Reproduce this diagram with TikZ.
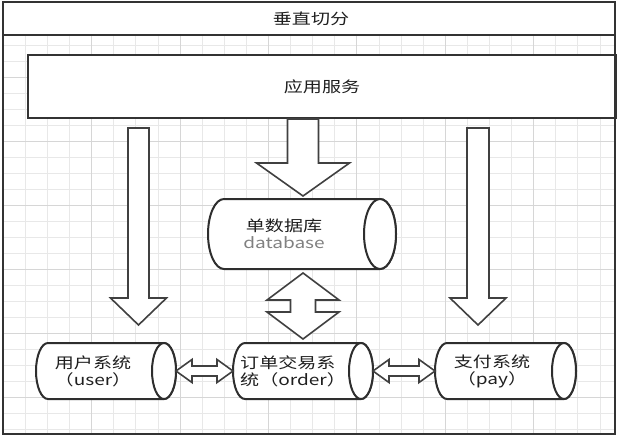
\documentclass[tikz,border=0pt]{standalone}
\usepackage{fontspec}
\newfontfamily\cjk[FakeStretch=1.27]{Noto Sans CJK SC}
\newcommand\blkdown[6]{% cx, top, shaft half, head half, head base, tip
  \draw[blk] (#1-#3,#2) -- (#1+#3,#2) -- (#1+#3,#5) -- (#1+#4,#5) -- (#1,#6) -- (#1-#4,#5) -- (#1-#3,#5) -- cycle;}
\newcommand\blkh[6]{% x1, x2, cy, shaft half, head half, head length
  \draw[blk] (#1,#3) -- (#1+#6,#3-#5) -- (#1+#6,#3-#4) -- (#2-#6,#3-#4) -- (#2-#6,#3-#5) -- (#2,#3)
    -- (#2-#6,#3+#5) -- (#2-#6,#3+#4) -- (#1+#6,#3+#4) -- (#1+#6,#3+#5) -- cycle;}
\newcommand\cylh[6]{% xl, xe, top, bottom, rx left, rx end
  \draw[cylb] (#1+#5,#3) -- (#2,#3) arc (-90:90:#6 and {(#4-#3)/2}) -- (#1+#5,#4) arc (90:270:#5 and {(#4-#3)/2}) -- cycle;
  \draw[cylb] (#2,{(#3+#4)/2}) ellipse ({#6} and {(#4-#3)/2});}
\begin{document}
\begin{tikzpicture}[x=1pt,y=-1pt,
  frame/.style={draw=black!80, line width=2.2pt},
  blk/.style={draw=black!75, line width=1.6pt, fill=white, line join=miter},
  cylb/.style={draw=black!82, line width=2pt, fill=white},
  lbl/.style={font=\cjk\fontsize{15}{17}\selectfont, text=black!88, inner sep=0pt, align=center},
  minor/.style={draw=black!9, line width=0.8pt},
  major/.style={draw=black!16, line width=0.9pt}]
\useasboundingbox (0,0) rectangle (617,436);
\fill[white] (0,0) rectangle (617,436);
% grid
\foreach \k in {1,...,27} { \draw[minor] (3.2+22.1*\k,35) -- (3.2+22.1*\k,434); }
\foreach \k in {0,...,24} { \draw[minor] (3,45+16*\k) -- (615,45+16*\k); }
\foreach \m in {1,...,6} { \draw[major] (3.2+88.4*\m,35) -- (3.2+88.4*\m,434); }
\foreach \m in {0,...,5} { \draw[major] (3,77+64*\m) -- (615,77+64*\m); }
% title band
\fill[white] (3,2) rectangle (615,35);
\draw[draw=black!80, line width=1.6pt] (3,35) -- (615,35);
\node[lbl] (title) at (311,19) {垂直切分};
% application box
\node[draw=black!80, line width=2pt, fill=white, minimum width=588pt, minimum height=63pt, anchor=north west, inner sep=0pt] (appbox) at (27,54) {};
\node[lbl] (app) at (appbox.center) {应用服务};
% down arrows
\blkdown{138.5}{128}{10.5}{28}{298}{325}
\blkdown{478}{128}{11}{28}{298}{325}
\blkdown{303}{119}{15.5}{46.5}{163}{196}
% database
\cylh{208}{380}{199}{269}{16}{16}
\node[lbl] (db) at (284,233.5) {单数据库\\{\color{black!50}database}};
% vertical double arrow
\draw[blk] (303,273) -- (339,300) -- (315.5,300) -- (315.5,312) -- (339,312) -- (303,339)
  -- (267,312) -- (290.5,312) -- (290.5,300) -- (267,300) -- cycle;
% bottom systems
\cylh{36}{164}{343}{399}{12}{12}
\cylh{233}{361}{343}{399}{12}{12}
\cylh{435}{564}{343}{399}{12}{12}
\node[lbl] (user) at (93,371.5) {用户系统\\（user）};
\node[lbl, align=left, anchor=west] (order) at (240,371.5) {订单交易系\\统（order）};
\node[lbl] (pay) at (492,371.5) {支付系统\\（pay）};
% horizontal double arrows
\blkh{176}{233}{371}{5}{11.5}{16}
\blkh{373}{435}{371}{5}{11.5}{16}
% outer frame
\draw[frame] (3,2) rectangle (615,434);
\end{tikzpicture}
\end{document}
